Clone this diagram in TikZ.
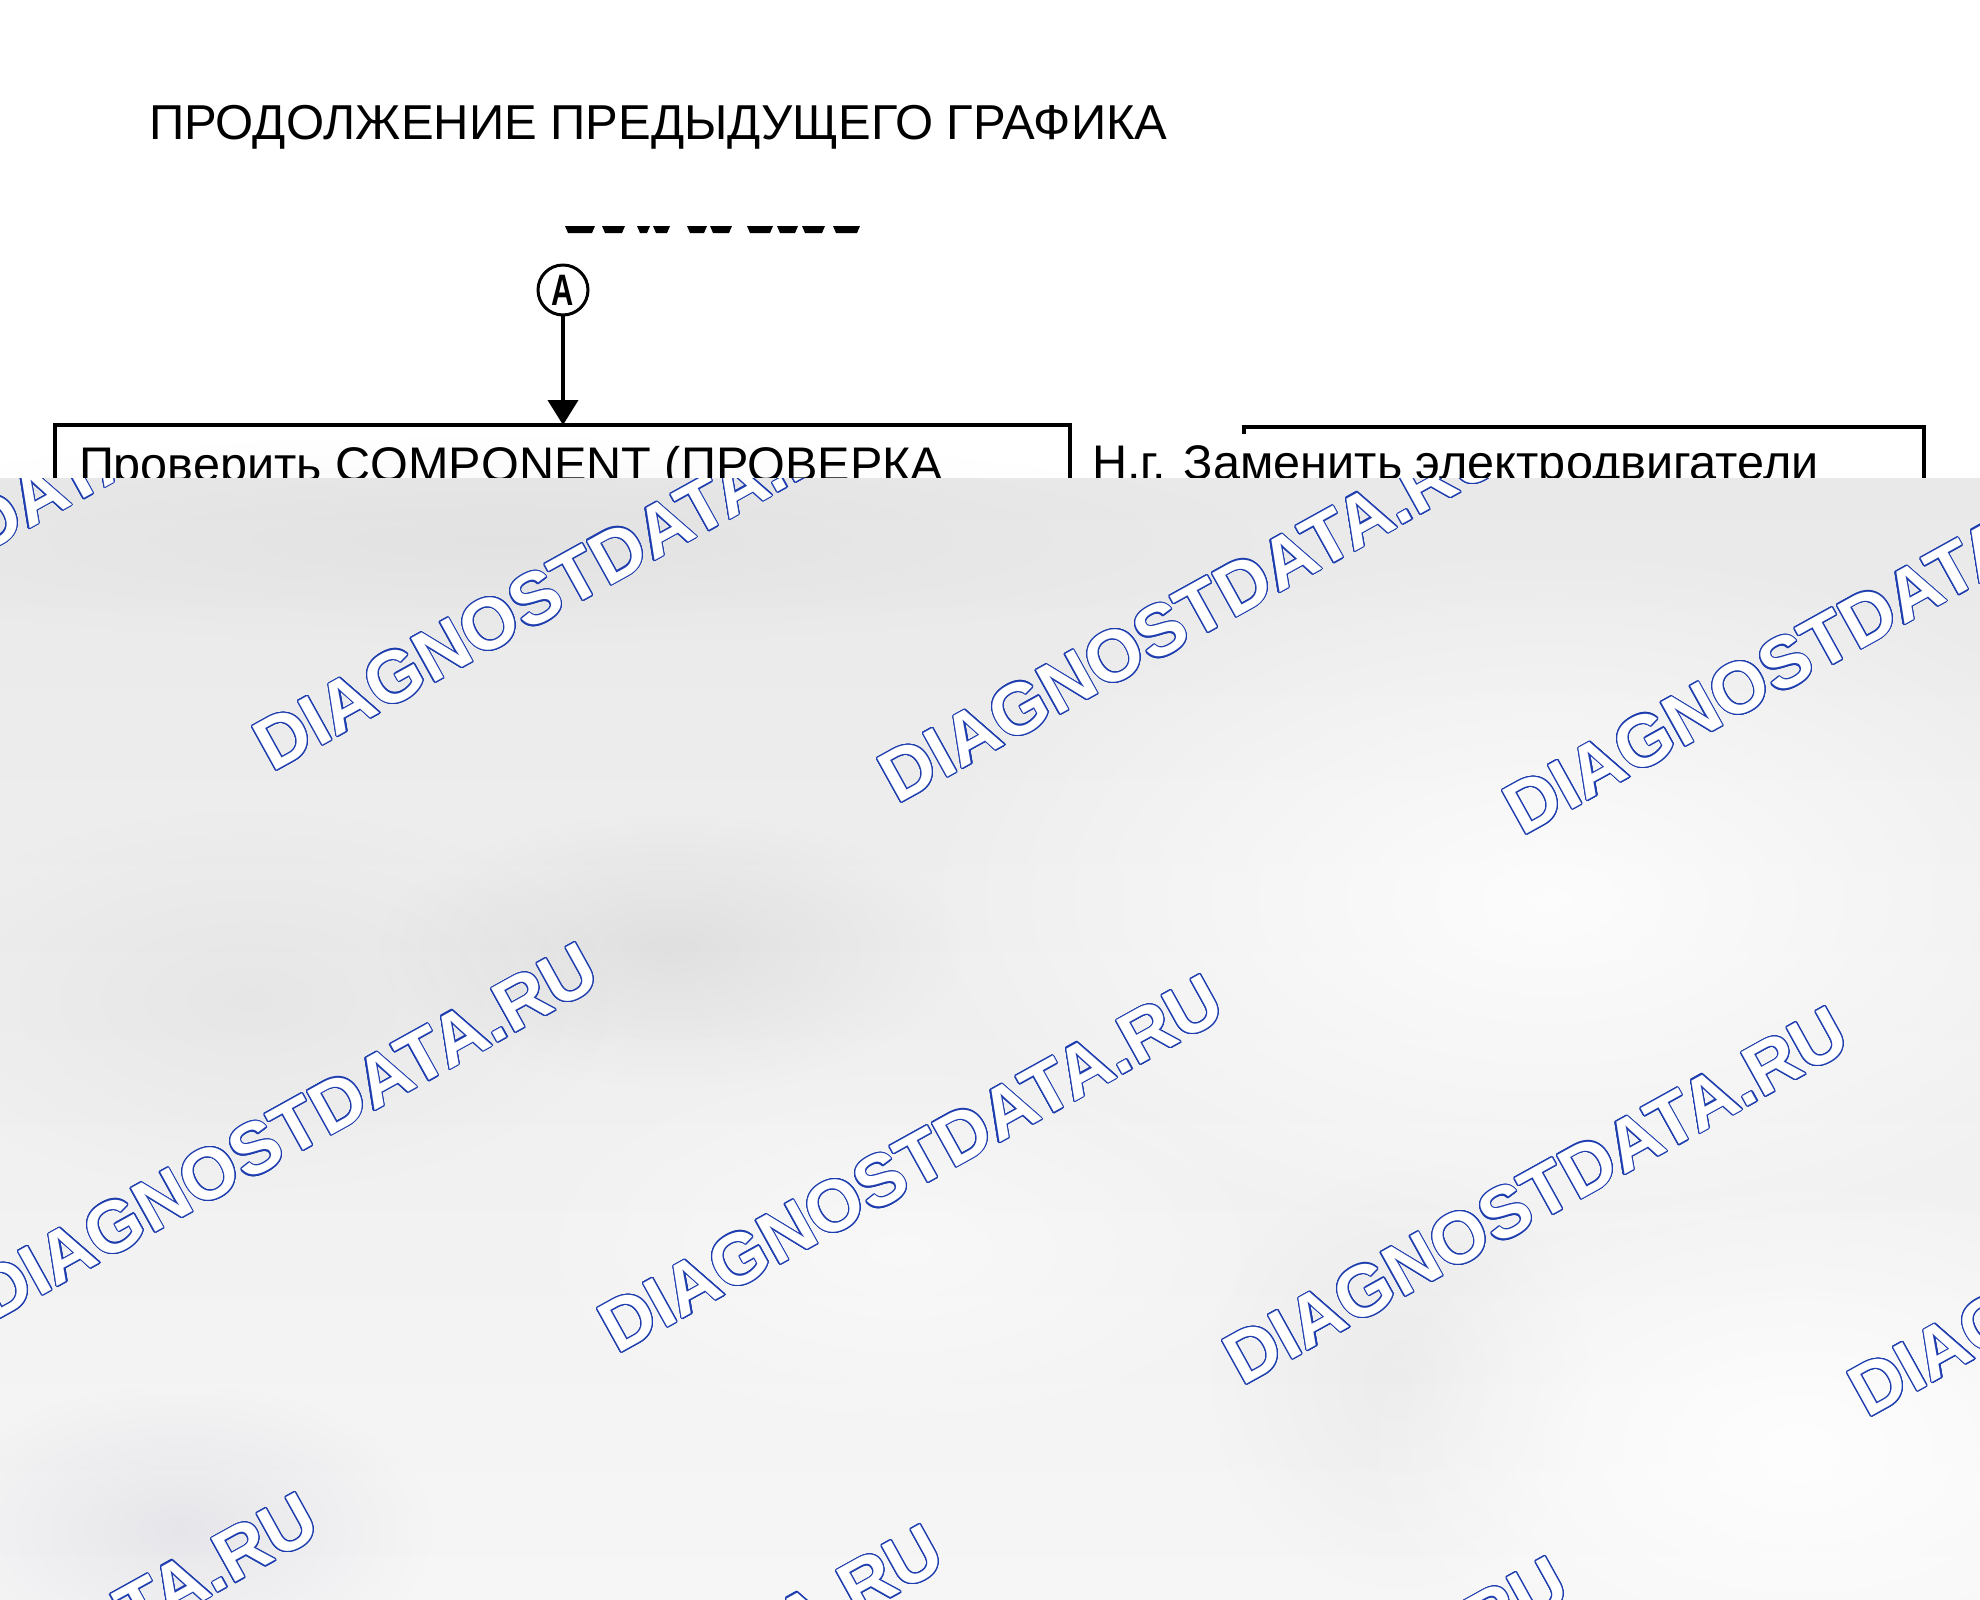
\documentclass[tikz,border=0pt]{standalone}
\usepackage{fontspec}
\setmainfont{Liberation Sans}
\usepackage{contour}
\contourlength{1.1pt}
\contournumber{24}
\usetikzlibrary{arrows.meta,fadings}
\definecolor{wmblue}{RGB}{30,62,175}
\definecolor{bgtop}{RGB}{233,233,234}
\definecolor{bgmid}{RGB}{243,243,244}
\definecolor{bgbot}{RGB}{246,246,247}
\tikzfading[name=blobfade, inner color=transparent!0, outer color=transparent!100]
\begin{document}
\begin{tikzpicture}[x=1pt,y=-1pt,
  every node/.style={inner sep=0pt, outer sep=0pt},
  bodytext/.style={font=\fontsize{48.6}{58}\selectfont, anchor=base west},
  frame/.style={line width=3.5pt, draw=black},
  wm/.style={font=\bfseries\fontsize{72.5}{72.5}\selectfont, text=white, rotate=29},
  blob/.style={path fading=blobfade}]
\useasboundingbox (0,0) rectangle (1980,1599);
\fill[white] (0,0) rectangle (1980,1599);

% title
\node[bodytext, font=\fontsize{49}{58}\selectfont] (title) at (149,139) {ПРОДОЛЖЕНИЕ ПРЕДЫДУЩЕГО ГРАФИКА};

% cut-off fragment of a line of text
\foreach \a/\b in {565/595,602/625,637/650,653/670,687/707,710/732,747/773,777/798,802/825,833/860}
  \fill (\a,226) -- (\b,226) -- (\b-3,233) -- (\a+3,233) -- cycle;

% connector A
\node[circle, draw, line width=3pt, minimum size=50pt, font=\bfseries\fontsize{44}{44}\selectfont] (A) at (563,290) {\scalebox{0.7}[1]{A}};

% left box
\node[frame, anchor=north west, minimum width=1015pt, minimum height=300pt] (box1) at (55,425) {};
\draw[line width=4pt, -{Triangle[length=25pt,width=30pt]}] (A.south) -- (A.south |- box1.north);
\node[bodytext] (t1) at (79,481) {Проверить COMPONENT (ПРОВЕРКА};

% right box (partial frame)
\coordinate (r1) at (1244,434);
\coordinate (r2) at (1244,427);
\coordinate (r3) at (1924,427);
\coordinate (r4) at (1924,700);
\draw[frame, line width=4.5pt] (r1) -- (r2) -- (r3) -- (r4);
\node[bodytext] (t2) at (1092,479) {Н.г. Заменить электродвигатели};

% grey overlay
\shade[top color=bgtop, middle color=bgmid, bottom color=bgbot] (0,478) rectangle (1980,1599);
\fill[black, opacity=0.03, blob] (500,540) ellipse (800 and 110);
\fill[black, opacity=0.06, blob] (670,950) ellipse (300 and 140);
\fill[black, opacity=0.035, blob] (250,1000) ellipse (380 and 200);
\fill[black!80!blue, opacity=0.06, blob] (180,1530) ellipse (260 and 150);
\fill[black, opacity=0.03, blob] (1400,1380) ellipse (200 and 220);
\fill[white, opacity=0.85, blob] (1550,900) ellipse (650 and 360);
\fill[white, opacity=0.9, blob] (1800,1450) ellipse (450 and 280);
\fill[white, opacity=0.5, blob] (900,1250) ellipse (400 and 200);

% watermark
\begin{scope}
\clip (0,478) rectangle (1980,1599);
\foreach \i in {-2,...,3} {
  \foreach \j in {-2,...,2} {
    \node[wm] (wm\i x\j) at ({911+625*\i-280*\j},{1164+32*\i+550*\j}) {\contour{wmblue}{DIAGNOSTDATA.RU}};
  }
}
\end{scope}
\end{tikzpicture}
\end{document}
